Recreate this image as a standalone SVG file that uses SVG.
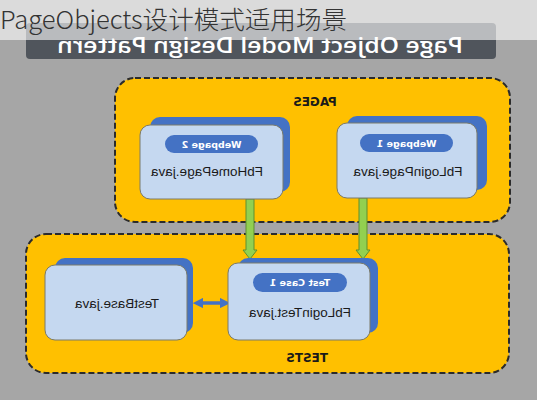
<svg xmlns="http://www.w3.org/2000/svg" width="537" height="400" viewBox="0 0 537 400">
<defs>
<style>
.grp{fill:#ffc000;stroke:#2b2b2b;stroke-width:2;stroke-dasharray:6 3}
.back{fill:#4472c4}
.card{fill:#c5d8f0;stroke:#7a7a6a;stroke-width:1}
.pill{fill:#4472c4}
.ptxt{font-family:"DejaVu Sans",sans-serif;font-weight:bold;font-size:9.5px;fill:#ffffff;text-anchor:middle}
.ntxt{font-family:"Liberation Sans",Arial,sans-serif;font-size:13.5px;fill:#1a1a1a;text-anchor:middle}
.gtxt{font-family:"DejaVu Sans",sans-serif;font-weight:bold;font-size:12px;fill:#1a1a1a;text-anchor:middle}
.green{fill:#92d050;stroke:#5f8f2e;stroke-width:1}
</style>
<marker id="bh" viewBox="0 0 10 10" refX="5" refY="5" markerWidth="3" markerHeight="3" orient="auto-start-reverse">
<path d="M0,0 L10,5 L0,10 z" fill="#4472c4"/>
</marker>
</defs>
<rect width="537" height="400" fill="#a6a6a6"/>
<g id="banner">
<rect x="26" y="23" width="470" height="36" rx="4" fill="#50555c"/>
<text transform="matrix(-1 0 0 1 520 0)" x="260" y="53" font-family="Open Sans,Liberation Sans,sans-serif" font-weight="600" font-size="21" fill="#ffffff" text-anchor="middle" textLength="406" lengthAdjust="spacingAndGlyphs">Page Object Model Design Pattern</text>
</g>
<g id="pages">
<rect class="grp" x="115" y="78" width="395" height="144" rx="20"/>
<text class="gtxt" transform="matrix(-1 0 0 1 630 0)" x="315" y="106">PAGES</text>
</g>
<g id="tests">
<rect class="grp" x="26" y="234" width="483" height="139" rx="20"/>
<text class="gtxt" transform="matrix(-1 0 0 1 614 0)" x="307" y="362">TESTS</text>
</g>
<g id="connectors">
<path class="green" d="M246,199 V250 H243 L250,259 L257,250 H254 V199 Z"/>
<path class="green" d="M359,198 V250 H356 L363,259 L370,250 H367 V198 Z"/>
<line x1="198" y1="303" x2="225" y2="303" stroke="#4472c4" stroke-width="3.5" marker-start="url(#bh)" marker-end="url(#bh)"/>
</g>
<g id="webpage2">
<rect class="back" x="150" y="117" width="140" height="75" rx="10"/>
<rect class="card" x="140" y="125" width="143" height="74" rx="10"/>
<rect class="pill" x="165" y="135" width="93" height="18" rx="9"/>
<text class="ptxt" transform="matrix(-1 0 0 1 423 0)" x="211.5" y="147.5">Webpage 2</text>
<text class="ntxt" transform="matrix(-1 0 0 1 414 0)" x="207" y="176">FbHomePage.java</text>
</g>
<g id="webpage1">
<rect class="back" x="347" y="116" width="140" height="74" rx="10"/>
<rect class="card" x="337" y="123" width="140" height="75" rx="10"/>
<rect class="pill" x="360" y="134" width="93" height="18" rx="9"/>
<text class="ptxt" transform="matrix(-1 0 0 1 813 0)" x="406.5" y="146.5">Webpage 1</text>
<text class="ntxt" transform="matrix(-1 0 0 1 816 0)" x="408" y="176">FbLoginPage.java</text>
</g>
<g id="testbase">
<rect class="back" x="55" y="258" width="138" height="75" rx="10"/>
<rect class="card" x="45" y="265" width="142" height="75" rx="10"/>
<text class="ntxt" transform="matrix(-1 0 0 1 234 0)" x="117" y="308">TestBase.java</text>
</g>
<g id="fblogintest">
<rect class="back" x="238" y="258" width="140" height="75" rx="10"/>
<rect class="card" x="228" y="263" width="142" height="77" rx="10"/>
<rect class="pill" x="253" y="273" width="94" height="19" rx="9.5"/>
<text class="ptxt" transform="matrix(-1 0 0 1 600 0)" x="300" y="286">Test Case 1</text>
<text class="ntxt" transform="matrix(-1 0 0 1 600 0)" x="300" y="317">FbLoginTest.java</text>
</g>
<rect x="0" y="0" width="537" height="40" fill="#ffffff" fill-opacity="0.6"/>
<text x="0" y="29" font-family="Noto Sans CJK SC,Noto Sans,sans-serif" font-weight="300" font-size="25" fill="#333333" textLength="347" lengthAdjust="spacingAndGlyphs">PageObjects设计模式适用场景</text>
</svg>
